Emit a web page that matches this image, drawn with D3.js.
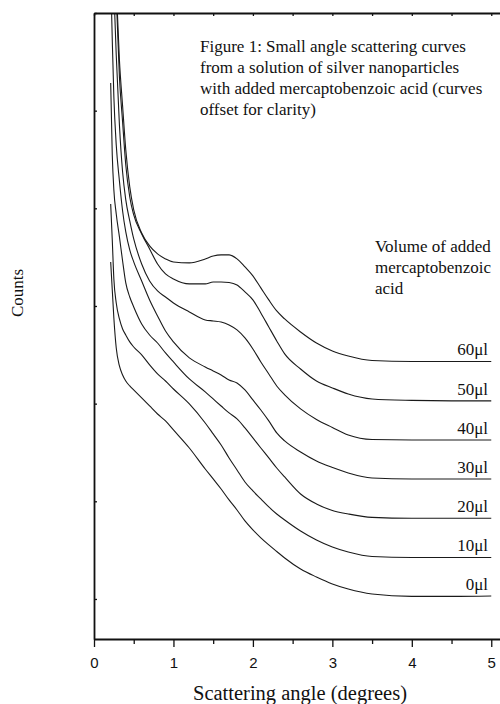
<!DOCTYPE html>
<html>
<head>
<meta charset="utf-8">
<script src="https://cdn.jsdelivr.net/npm/d3@7"></script>
<style>
  body { margin: 0; background: #fff; }
  svg text { fill: #111; }
</style>
</head>
<body>
<div id="chart"></div>
<script>
// scattering angle (degrees), same grid for every curve
const angles = [0.21, 0.23, 0.25, 0.28, 0.32, 0.36, 0.4, 0.45, 0.5, 0.6, 0.7, 0.8, 0.9, 1.0, 1.2, 1.4, 1.5, 1.6, 1.7, 1.8, 1.9, 2.0, 2.1, 2.2, 2.3, 2.4, 2.6, 2.8, 3.0, 3.2, 3.5, 4.0, 4.5, 5.0];

// counts (arbitrary units, curves already offset)
const counts0 = [345.1, 316.4, 287.7, 257.0, 238.6, 229.4, 223.2, 218.1, 214.0, 205.8, 197.6, 189.4, 182.3, 173.1, 154.6, 133.1, 122.9, 112.6, 101.4, 91.1, 79.9, 70.7, 62.5, 55.3, 48.6, 42.0, 30.7, 22.5, 15.4, 10.2, 5.1, 2.6, 2.6, 3.1];
const counts10 = [404.5, 367.6, 327.7, 303.1, 286.7, 276.5, 270.3, 263.2, 258.0, 249.9, 239.6, 230.4, 223.2, 215.0, 199.7, 180.2, 169.0, 157.7, 144.4, 132.1, 119.8, 110.6, 102.4, 94.2, 87.0, 80.9, 69.6, 60.4, 53.2, 48.1, 43.5, 42.5, 42.5, 42.5];
const counts20 = [528.4, 454.7, 418.8, 394.2, 370.7, 346.1, 323.6, 309.2, 299.0, 281.6, 270.3, 262.1, 251.9, 242.7, 225.3, 212.0, 204.8, 197.6, 190.5, 184.3, 175.1, 164.9, 154.6, 144.4, 134.1, 124.9, 107.5, 97.3, 90.6, 87.0, 83.5, 82.6, 82.6, 82.6];
const counts30 = [639.0, 572.4, 514.0, 464.9, 428.0, 397.3, 375.8, 357.4, 345.1, 325.6, 306.2, 289.8, 274.4, 263.2, 246.8, 237.6, 233.5, 229.4, 224.3, 221.2, 214.0, 203.8, 193.5, 182.3, 170.0, 161.8, 150.5, 141.3, 134.7, 129.0, 123.9, 122.9, 122.9, 122.9];
const counts40 = [715.8, 664.6, 623.6, 557.1, 485.4, 437.2, 408.6, 387.1, 368.6, 343.0, 325.6, 315.4, 309.2, 303.1, 293.9, 285.7, 284.7, 283.6, 280.6, 275.5, 267.3, 256.0, 242.7, 230.4, 218.1, 209.0, 194.6, 183.8, 175.6, 167.9, 163.3, 162.8, 162.8, 162.8];
const counts50 = [787.5, 726.0, 674.8, 618.5, 534.5, 488.4, 444.4, 411.6, 393.2, 373.8, 358.4, 343.0, 332.8, 327.7, 322.6, 322.6, 324.6, 324.6, 324.1, 321.5, 314.4, 306.2, 292.9, 278.5, 264.2, 250.9, 235.5, 223.2, 216.1, 209.9, 204.8, 203.3, 202.8, 202.8];
const counts60 = [807.9, 746.5, 690.2, 628.7, 551.9, 504.8, 459.8, 421.9, 398.3, 374.8, 361.5, 353.3, 348.2, 345.1, 344.1, 348.2, 351.2, 352.3, 352.3, 348.2, 340.0, 330.8, 318.5, 306.2, 294.9, 286.7, 273.4, 262.1, 254.0, 248.8, 244.2, 243.2, 243.2, 243.2];

const seriesNames = ["0μl", "10μl", "20μl", "30μl", "40μl", "50μl", "60μl"];
const seriesValues = [counts0, counts10, counts20, counts30, counts40, counts50, counts60];

// ticks
const xMajorTicks = [0, 1, 2, 3, 4, 5];
const xMinorTicks = [0.5, 1.5, 2.5, 3.5, 4.5];
const xTopTicks = [0, 0.5, 1, 1.5, 2, 2.5, 3, 3.5, 4, 4.5, 5];
const yTicks = [0, 100, 200, 300, 400, 500, 600];

const titleLines = ["Figure 1: Small angle scattering curves", "from a solution of silver nanoparticles", "with added mercaptobenzoic acid (curves", "offset for clarity)"];
const legendTitle = ["Volume of added", "mercaptobenzoic", "acid"];

const width = 500;
const height = 704;
const serif = "'Liberation Serif', 'Times New Roman', serif";
const sans = "'Liberation Sans', Arial, sans-serif";

const svg = d3.select("#chart").append("svg").attr("width", width).attr("height", height);

const x = d3.scaleLinear().domain([0, 5.11]).range([94, 500]);
const y = d3.scaleLinear().domain([-41, 600]).range([639, 13]);

//clip the curves to the plot box
svg.append("clipPath").attr("id", "plot-clip")
    .append("rect").attr("x", 94).attr("y", 13).attr("width", 406).attr("height", 626);

const line = d3.line()
    .x((d, i) => x(angles[i]))
    .y(d => y(d))
    .curve(d3.curveMonotoneX);

svg.append("g").attr("clip-path", "url(#plot-clip)")
    .selectAll("path").data(seriesValues)
    .enter()
    .append("path")
    .attr("d", d => line(d))
    .attr("fill", "none")
    .attr("stroke", "#1a1a1a")
    .attr("stroke-width", 1.1);

//curve labels just above the flat end of each curve
svg.selectAll(".curve-label").data(seriesValues)
    .enter()
    .append("text")
    .attr("class", "curve-label")
    .attr("x", 488)
    .attr("y", d => y(d[d.length - 1]) - 6)
    .attr("text-anchor", "end")
    .style("font-family", serif)
    .style("font-size", "17px")
    .text((d, i) => seriesNames[i]);

//bottom axis: major ticks with labels, minor ticks without
const xAxis = svg.append("g").attr("transform", "translate(0, 639)")
    .call(d3.axisBottom(x).tickValues(xMajorTicks).tickFormat(d3.format("d")).tickSize(8).tickSizeOuter(0).tickPadding(10));
xAxis.selectAll("text").style("font-family", sans).style("font-size", "15px").attr("fill", "#111");

const xMinor = svg.append("g").attr("transform", "translate(0, 639)")
    .call(d3.axisBottom(x).tickValues(xMinorTicks).tickFormat("").tickSize(5));
xMinor.select(".domain").remove();

//top axis, small inward ticks
svg.append("g").attr("transform", "translate(0, 13)")
    .call(d3.axisTop(x).tickValues(xTopTicks).tickFormat("").tickSize(-3).tickSizeOuter(0));

//left axis, no labels
svg.append("g").attr("transform", "translate(94, 0)")
    .call(d3.axisLeft(y).tickValues(yTicks).tickFormat("").tickSize(-3).tickSizeOuter(0));

svg.selectAll(".domain").attr("stroke", "#111").attr("stroke-width", 1.8);
svg.selectAll(".tick line").attr("stroke", "#111").attr("stroke-width", 1.3);

//axis titles
svg.append("text").attr("x", 300).attr("y", 700).attr("text-anchor", "middle")
    .style("font-family", serif).style("font-size", "20.5px")
    .text("Scattering angle (degrees)");

svg.append("text").attr("transform", "translate(23, 293) rotate(-90)").attr("text-anchor", "middle")
    .style("font-family", serif).style("font-size", "17px")
    .text("Counts");

//figure caption
svg.append("g").selectAll("text").data(titleLines)
    .enter()
    .append("text")
    .attr("x", 200)
    .attr("y", (d, i) => 52 + i * 21)
    .style("font-family", serif)
    .style("font-size", "17px")
    .text(d => d);

//legend heading
svg.append("g").selectAll("text").data(legendTitle)
    .enter()
    .append("text")
    .attr("x", 375)
    .attr("y", (d, i) => 252 + i * 21)
    .style("font-family", serif)
    .style("font-size", "17px")
    .text(d => d);
</script>
</body>
</html>
